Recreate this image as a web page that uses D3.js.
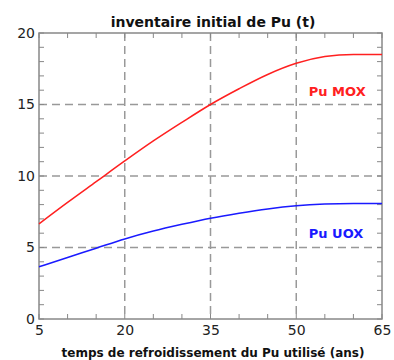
<!DOCTYPE html>
<html>
<head>
<meta charset="utf-8">
<script src="https://cdn.jsdelivr.net/npm/d3@7"></script>
<style>
  body { margin: 0; background: #fff; }
  text { font-family: "DejaVu Sans", sans-serif; }
</style>
</head>
<body>
<div id="chart"></div>
<script>
// années de refroidissement
const years = [5, 10, 15, 20, 25, 30, 35, 40, 45, 50, 55, 60, 65];
// inventaire Pu (t)
const puMox = [6.65, 8.15, 9.6, 11.05, 12.45, 13.75, 15.0, 16.1, 17.1, 17.88, 18.35, 18.5, 18.5];
const puUox = [3.65, 4.3, 4.95, 5.6, 6.15, 6.62, 7.05, 7.4, 7.7, 7.92, 8.04, 8.08, 8.08];
const xTicks = [5, 20, 35, 50, 65];
const yTicks = [0, 5, 10, 15, 20];
const xGrid = [20, 35, 50];
const yGrid = [5, 10, 15];

const W = 394, H = 360;
const margin = {top: 33, right: 12, bottom: 41, left: 39};
const width = W - margin.left - margin.right;
const height = H - margin.top - margin.bottom;

const svg = d3.select("#chart").append("svg")
    .attr("width", W).attr("height", H);
const g = svg.append("g")
    .attr("transform", `translate(${margin.left},${margin.top})`);

const x = d3.scaleLinear().domain([5, 65]).range([0, width]);
const y = d3.scaleLinear().domain([0, 20]).range([height, 0]);

// grille pointillée
g.selectAll(".gx").data(xGrid).enter().append("line")
    .attr("x1", d => x(d)).attr("x2", d => x(d))
    .attr("y1", 0).attr("y2", height)
    .attr("stroke", "#999").attr("stroke-width", 1.5)
    .attr("stroke-dasharray", "8,5");
g.selectAll(".gy").data(yGrid).enter().append("line")
    .attr("x1", 0).attr("x2", width)
    .attr("y1", d => y(d)).attr("y2", d => y(d))
    .attr("stroke", "#999").attr("stroke-width", 1.5)
    .attr("stroke-dasharray", "8,5");

// petites graduations vers l'intérieur
const xMinor = d3.range(5, 66, 5);
const yMinor = d3.range(0, 21, 1);
const tk = 5;
g.selectAll(".tb").data(xMinor).enter().append("line")
    .attr("x1", d => x(d)).attr("x2", d => x(d))
    .attr("y1", height).attr("y2", height - tk)
    .attr("stroke", "#888");
g.selectAll(".tt").data(xMinor).enter().append("line")
    .attr("x1", d => x(d)).attr("x2", d => x(d))
    .attr("y1", 0).attr("y2", tk)
    .attr("stroke", "#888");
g.selectAll(".tl").data(yMinor).enter().append("line")
    .attr("x1", 0).attr("x2", tk)
    .attr("y1", d => y(d)).attr("y2", d => y(d))
    .attr("stroke", "#888");
g.selectAll(".tr").data(yMinor).enter().append("line")
    .attr("x1", width).attr("x2", width - tk)
    .attr("y1", d => y(d)).attr("y2", d => y(d))
    .attr("stroke", "#888");

// cadre
g.append("rect")
    .attr("width", width).attr("height", height)
    .attr("fill", "none").attr("stroke", "#888").attr("stroke-width", 1.5);

// axes (étiquettes seulement)
const xAxis = g.append("g")
    .attr("transform", `translate(0,${height})`)
    .call(d3.axisBottom(x).tickValues(xTicks).tickSize(0).tickPadding(6));
const yAxis = g.append("g")
    .call(d3.axisLeft(y).tickValues(yTicks).tickSize(0).tickPadding(4));
[xAxis, yAxis].forEach(a => {
    a.select(".domain").remove();
    a.selectAll("text")
        .attr("font-family", "'Liberation Sans', Arial, sans-serif")
        .attr("font-size", 14).attr("fill", "#222");
});

// courbes
const line = d3.line()
    .x((d, i) => x(years[i]))
    .y(d => y(d))
    .curve(d3.curveMonotoneX);
g.append("path").datum(puMox)
    .attr("fill", "none").attr("stroke", "#ff2020").attr("stroke-width", 1.5)
    .attr("d", line);
g.append("path").datum(puUox)
    .attr("fill", "none").attr("stroke", "#1a1aff").attr("stroke-width", 1.5)
    .attr("d", line);

// étiquettes des séries
g.append("text")
    .attr("x", x(52.2)).attr("y", y(15.6))
    .attr("font-size", 13).attr("font-weight", "bold").attr("fill", "#ff2020")
    .text("Pu MOX");
g.append("text")
    .attr("x", x(52.2)).attr("y", y(5.66))
    .attr("font-size", 13).attr("font-weight", "bold").attr("fill", "#1a1aff")
    .text("Pu UOX");

// titre et libellé de l'axe x
svg.append("text")
    .attr("x", 213).attr("y", 27)
    .attr("text-anchor", "middle")
    .attr("font-size", 14).attr("font-weight", "bold").attr("fill", "#111")
    .text("inventaire initial de Pu (t)");
svg.append("text")
    .attr("x", 213).attr("y", 357)
    .attr("text-anchor", "middle")
    .attr("font-size", 12).attr("font-weight", "bold").attr("fill", "#111")
    .attr("textLength", 303).attr("lengthAdjust", "spacingAndGlyphs")
    .text("temps de refroidissement du Pu utilisé (ans)");
</script>
</body>
</html>
